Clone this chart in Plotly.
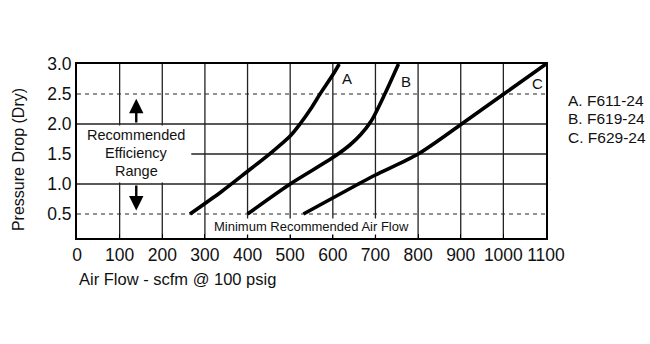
import plotly.graph_objects as go

# Pressure drop curves (psi) versus air flow (scfm @ 100 psig)
series_names = ["A", "B", "C"]
a_flow = [265, 340, 398, 455, 500, 523, 548, 570, 600, 615]
a_drop = [0.5, 0.88, 1.2, 1.52, 1.8, 2.0, 2.25, 2.5, 2.82, 3.0]
b_flow = [400, 500, 600, 640, 665, 690, 722, 754]
b_drop = [0.5, 1.0, 1.44, 1.65, 1.82, 2.05, 2.5, 3.0]
c_flow = [531, 660, 700, 800, 902, 1001, 1100]
c_drop = [0.5, 1.0, 1.15, 1.5, 2.0, 2.5, 3.0]

legend_lines = ["A. F611-24", "B. F619-24", "C. F629-24"]
x_ticks = list(range(0, 1101, 100))
y_ticks = [0.5, 1.0, 1.5, 2.0, 2.5, 3.0]
dashed_levels = [0.5, 2.5]
efficiency_text = ["Recommended", "Efficiency", "Range"]
min_flow_text = "Minimum Recommended Air Flow"

FONT = "Liberation Sans, Arial, sans-serif"
INK = "#111111"
Y_LO, Y_HI = 0.1, 3.0

fig = go.Figure()
for fx, fy in [(a_flow, a_drop), (b_flow, b_drop), (c_flow, c_drop)]:
    fig.add_trace(go.Scatter(
        x=fx, y=fy, mode="lines",
        line=dict(color="#000000", width=3.6, shape="spline", smoothing=0.8),
        showlegend=False, hoverinfo="skip",
    ))

shapes = []
# vertical grid
for xv in x_ticks[1:-1]:
    shapes.append(dict(type="line", xref="x", yref="y", x0=xv, x1=xv, y0=Y_LO, y1=Y_HI,
                       line=dict(color="#222222", width=1.3), layer="below"))
# horizontal grid: solid at whole/half steps, dashed at the efficiency limits
for yv in y_ticks[:-1]:
    dashed = yv in dashed_levels
    shapes.append(dict(type="line", xref="x", yref="y", x0=0, x1=1100, y0=yv, y1=yv,
                       line=dict(color="#222222", width=1.0 if dashed else 1.3,
                                 dash="4px,4px" if dashed else "solid"),
                       layer="below"))
# white panel behind the efficiency-range caption
shapes.append(dict(type="rect", xref="x", yref="y", x0=0, x1=268, y0=1.025, y1=1.975,
                   fillcolor="white", line=dict(width=0), layer="below"))

annotations = []
for i, t in enumerate(efficiency_text):
    annotations.append(dict(x=139, y=[1.819, 1.515, 1.22][i], xref="x", yref="y", text=t,
                            showarrow=False, font=dict(family=FONT, size=14.5, color=INK)))
# range arrows
annotations.append(dict(x=139, y=2.42, ax=139, ay=2.0, xref="x", yref="y", axref="x", ayref="y",
                        text="", showarrow=True, arrowhead=2, arrowsize=1.2, arrowwidth=2.4,
                        arrowcolor="#000000"))
annotations.append(dict(x=139, y=0.56, ax=139, ay=1.0, xref="x", yref="y", axref="x", ayref="y",
                        text="", showarrow=True, arrowhead=2, arrowsize=1.2, arrowwidth=2.4,
                        arrowcolor="#000000"))
annotations.append(dict(x=549, y=0.294, xref="x", yref="y", text=min_flow_text, showarrow=False,
                        bgcolor="white", borderpad=0,
                        font=dict(family=FONT, size=13, color=INK)))
# curve letters
for name, (lx, ly) in zip(series_names, [(633, 2.754), (772, 2.706), (1081, 2.679)]):
    annotations.append(dict(x=lx, y=ly, xref="x", yref="y", text=name, showarrow=False,
                            font=dict(family=FONT, size=15, color=INK)))
# model key, to the right of the plot area
for i, t in enumerate(legend_lines):
    annotations.append(dict(x=1.0426, y=[0.788, 0.6845, 0.5785][i], xref="paper", yref="paper",
                            text=t, xanchor="left", yanchor="middle", showarrow=False,
                            font=dict(family=FONT, size=15.5, color=INK)))
# axis titles
annotations.append(dict(x=0, y=-0.235, xref="paper", yref="paper", text="Air Flow - scfm @ 100 psig",
                        xanchor="left", yanchor="middle", showarrow=False,
                        font=dict(family=FONT, size=16.5, color=INK)))
annotations.append(dict(x=-0.125, y=0.45, xref="paper", yref="paper", text="Pressure Drop (Dry)",
                        textangle=-90, showarrow=False, xanchor="center", yanchor="middle",
                        font=dict(family=FONT, size=16, color=INK)))

fig.update_layout(
    width=650, height=344,
    margin=dict(l=77, r=104, t=64, b=106),
    paper_bgcolor="white", plot_bgcolor="white",
    shapes=shapes, annotations=annotations,
    xaxis=dict(range=[0, 1100], tickvals=x_ticks, showgrid=False, zeroline=False,
               showline=True, mirror=True, linecolor="#000000", linewidth=2,
               ticks="inside", ticklen=4, tickwidth=1.3, tickcolor="#000000",
               tickangle=0, tickfont=dict(family=FONT, size=17.5, color=INK)),
    yaxis=dict(range=[Y_LO, Y_HI], tickvals=y_ticks, tickformat=".1f", showgrid=False,
               zeroline=False, showline=True, mirror=True, linecolor="#000000", linewidth=2,
               ticks="", tickfont=dict(family=FONT, size=17.5, color=INK)),
)

fig.write_html("out.html")
